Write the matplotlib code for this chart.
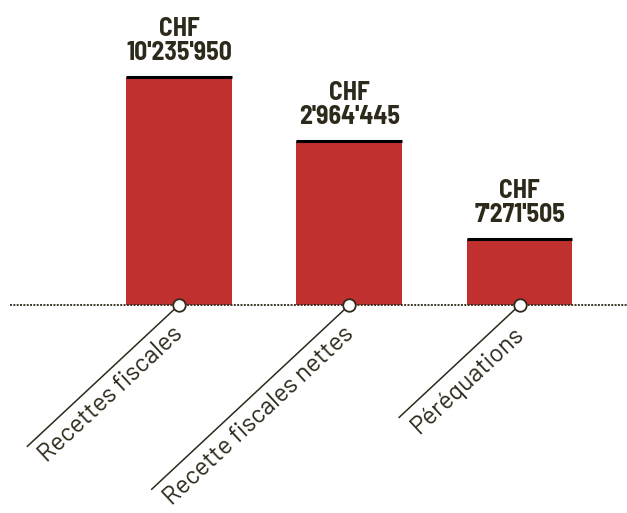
import numpy as np
import matplotlib
matplotlib.use("Agg")
import matplotlib.pyplot as plt

categories = ["Recettes fiscales", "Recette fiscales nettes", "Péréquations"]
amounts = ["10'235'950", "2'964'445", "7'271'505"]
bar_heights = [228, 164, 66]   # drawn heights

RED = "#c0302e"
INK = "#2d2a1b"
ANGLE = 43

fig = plt.figure(figsize=(6.27, 5.13), dpi=100)
ax = fig.add_axes([0, 0, 1, 1])
ax.set_xlim(-1.05, 2.63)
ax.set_ylim(-208, 305)
ax.axis("off")

x = np.arange(len(categories))
ax.bar(x, bar_heights, width=0.62, color=RED, zorder=2)
ax.hlines(bar_heights, x - 0.31, x + 0.31, color="black", linewidth=2.2, zorder=3)
ax.plot([-0.99, 2.63], [0, 0], color=INK, linestyle=(0, (1.1, 0.75)),
        linewidth=1.3, zorder=4)
ax.plot(x, np.zeros(len(x)), "o", ms=9, mfc="white", mec=INK, mew=1.3, zorder=6)

for xi, h, amt in zip(x, bar_heights, amounts):
    ax.annotate(f"CHF\n{amt}", (xi, h), xytext=(0, 9), textcoords="offset points",
                ha="center", va="bottom", fontsize=18.5, color=INK,
                family="Barlow Semi Condensed", fontweight=700, linespacing=0.95)

# category labels hang under a 43 degree leader line
renderer = fig.canvas.get_renderer()
a = np.deg2rad(ANGLE)
u = np.array([-np.cos(a), -np.sin(a)])     # along the leader, down-left
down = np.array([np.sin(a), -np.cos(a)])   # below the text
to_data = ax.transData.inverted()
for xi, cat in zip(x, categories):
    p0 = ax.transData.transform((xi, 0))
    anchor = to_data.transform(p0 + u * 17 + down * 26)
    t = ax.text(anchor[0], anchor[1], cat, ha="right", va="baseline",
                fontsize=18, color=INK, family="Barlow", fontweight=400,
                rotation_mode="anchor")
    w = t.get_window_extent(renderer).width
    t.set_rotation(ANGLE)
    end = to_data.transform(p0 + u * (17 + w + 3))
    ax.plot([xi, end[0]], [0, end[1]], color=INK, linewidth=1.1, zorder=5)

fig.savefig("out.png")
